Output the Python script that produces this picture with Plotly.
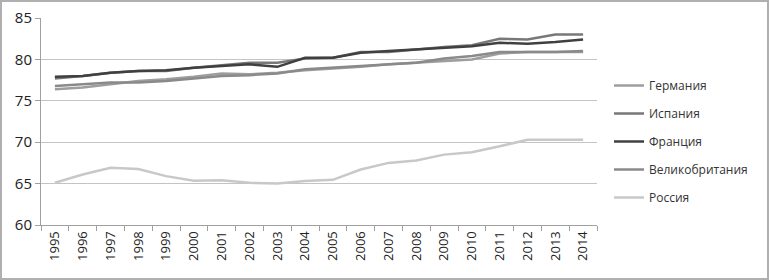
import plotly.graph_objects as go

years = [str(y) for y in range(1995, 2015)]

germany = [76.4, 76.6, 77.0, 77.4, 77.6, 77.9, 78.3, 78.2, 78.4, 78.7,
           78.9, 79.1, 79.4, 79.6, 79.8, 80.0, 80.7, 80.9, 80.9, 80.9]
spain = [77.7, 78.0, 78.4, 78.6, 78.6, 79.0, 79.3, 79.6, 79.6, 80.1,
         80.2, 80.9, 80.9, 81.2, 81.5, 81.7, 82.5, 82.4, 83.0, 83.0]
france = [77.9, 78.0, 78.4, 78.6, 78.7, 79.0, 79.2, 79.4, 79.1, 80.2,
          80.2, 80.8, 81.0, 81.2, 81.4, 81.6, 82.0, 81.9, 82.1, 82.4]
uk = [76.8, 77.0, 77.2, 77.2, 77.4, 77.7, 78.0, 78.1, 78.3, 78.8,
      79.0, 79.2, 79.4, 79.6, 80.1, 80.4, 80.9, 80.9, 80.9, 81.0]
russia = [65.1, 66.1, 66.9, 66.75, 65.9, 65.35, 65.4, 65.1, 65.0, 65.3,
          65.45, 66.7, 67.5, 67.8, 68.5, 68.8, 69.5, 70.3, 70.3, 70.3]

series = [
    ("Германия", germany, "#9e9e9e"),
    ("Испания", spain, "#787878"),
    ("Франция", france, "#404040"),
    ("Великобритания", uk, "#8a8a8a"),
    ("Россия", russia, "#c8c8c8"),
]

fig = go.Figure()
for i, (name, vals, col) in enumerate(series):
    fig.add_trace(go.Scatter(x=years, y=vals, name=name, mode="lines",
                             line=dict(color=col, width=2.5),
                             legendgroup=f"g{i}"))

L, R, T, B = 41, 172, 18, 55
W, H = 769, 280
pw, ph = W - L - R, H - T - B

fig.update_layout(
    width=W, height=H,
    margin=dict(l=L, r=R, t=T, b=B, autoexpand=False),
    paper_bgcolor="white", plot_bgcolor="white",
    font=dict(family="Open Sans, DejaVu Sans", color="#222222"),
    showlegend=True,
    legend=dict(x=(609 - L) / pw, xanchor="left", y=1 - (71 - T) / ph, yanchor="top",
                font=dict(size=12, color="#333333"), tracegroupgap=9,
                bgcolor="rgba(0,0,0,0)", traceorder="grouped"),
    xaxis=dict(type="category", tickangle=-90, tickson="boundaries",
               range=[-0.5, len(years) - 0.5], automargin=False,
               ticks="outside", ticklen=5, tickcolor="#a0a0a0",
               showline=True, linecolor="#a0a0a0", linewidth=1,
               showgrid=False, tickfont=dict(size=13, color="#222222")),
    yaxis=dict(range=[60, 85], dtick=5, ticks="outside", ticklen=5,
               automargin=False,
               tickcolor="#a0a0a0", showline=True, linecolor="#a0a0a0",
               linewidth=1, showgrid=True, gridcolor="#c4c4c4", gridwidth=1,
               zeroline=False, tickfont=dict(size=15, color="#222222")),
    shapes=[dict(type="rect", xref="paper", yref="paper",
                 x0=-L / pw + 1 / pw, x1=1 + R / pw - 1 / pw,
                 y0=-B / ph + 1 / ph, y1=1 + T / ph - 1 / ph,
                 line=dict(color="#b0b0b0", width=2))],
)

fig.write_html("out.html", config={"displayModeBar": False},
               post_script="document.body.style.margin='0';document.body.style.overflow='hidden';")
